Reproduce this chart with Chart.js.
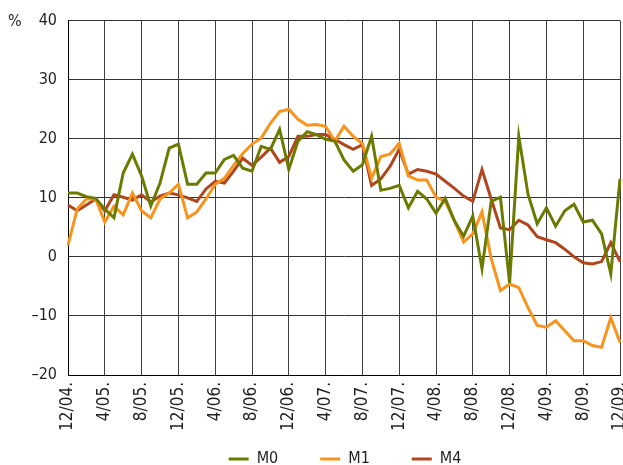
<!DOCTYPE html>
<html>
<head>
<meta charset="utf-8">
<script src="https://cdn.jsdelivr.net/npm/chart.js@4.4.1/dist/chart.umd.min.js"></script>
<style>
html,body{margin:0;padding:0;background:#ffffff;}
#wrap{width:623px;height:465px;position:relative;}
canvas{display:block;}
</style>
</head>
<body>
<div id="wrap"><canvas id="c" width="623" height="465"></canvas></div>
<script>
// Tick labels shown on the x axis (every 4th month)
const tickLabels = ['12/04.','4/05.','8/05.','12/05.','4/06.','8/06.','12/06.','4/07.','8/07.','12/07.','4/08.','8/08.','12/08.','4/09.','8/09.','12/09.'];

// Monthly categories Dec 2004 .. Dec 2009
const months = ['12/04.',
  '1/05.','2/05.','3/05.','4/05.','5/05.','6/05.','7/05.','8/05.','9/05.','10/05.','11/05.','12/05.',
  '1/06.','2/06.','3/06.','4/06.','5/06.','6/06.','7/06.','8/06.','9/06.','10/06.','11/06.','12/06.',
  '1/07.','2/07.','3/07.','4/07.','5/07.','6/07.','7/07.','8/07.','9/07.','10/07.','11/07.','12/07.',
  '1/08.','2/08.','3/08.','4/08.','5/08.','6/08.','7/08.','8/08.','9/08.','10/08.','11/08.','12/08.',
  '1/09.','2/09.','3/09.','4/09.','5/09.','6/09.','7/09.','8/09.','9/09.','10/09.','11/09.','12/09.'];

const seriesNames = ['M0', 'M1', 'M4'];

const m0 = [10.8, 10.8, 10.2, 9.9, 8.1, 6.6, 14.2, 17.4, 13.7, 8.6, 12.5, 18.4, 19.1,
  12.3, 12.3, 14.2, 14.2, 16.5, 17.2, 15.0, 14.5, 18.7, 18.2, 21.6, 14.8,
  19.6, 21.2, 20.7, 19.9, 19.6, 16.4, 14.5, 15.6, 20.4, 11.3, 11.6, 12.1,
  8.3, 11.1, 9.8, 7.4, 9.9, 6.1, 3.5, 6.9, -2.0, 9.4, 10.1, -4.4,
  20.4, 10.6, 5.6, 8.3, 5.2, 7.8, 8.9, 5.9, 6.2, 3.9, -2.9, 13.2];

const m1 = [2.0, 8.1, 9.8, 9.8, 5.9, 8.6, 7.1, 10.8, 7.8, 6.6, 9.8, 10.8, 12.3,
  6.6, 7.6, 9.8, 12.3, 13.3, 15.5, 17.5, 19.1, 20.1, 22.6, 24.6, 25.0,
  23.3, 22.3, 22.4, 22.1, 19.6, 22.1, 20.4, 19.2, 13.3, 17.0, 17.4, 19.2,
  13.7, 13.0, 13.0, 10.1, 9.4, 6.1, 2.5, 3.9, 7.6, -0.3, -5.7, -4.6,
  -5.2, -8.6, -11.6, -11.9, -10.8, -12.5, -14.2, -14.2, -15.0, -15.3, -10.3, -14.5];

const m4 = [8.8, 7.8, 8.8, 9.8, 7.8, 10.5, 10.1, 9.6, 10.5, 9.3, 10.3, 10.8, 10.5,
  10.0, 9.4, 11.5, 12.8, 12.5, 14.5, 16.7, 15.5, 16.9, 18.4, 16.0, 17.0,
  20.4, 20.4, 20.7, 20.7, 19.9, 19.0, 18.2, 19.0, 12.1, 13.2, 15.3, 18.2,
  14.0, 14.8, 14.5, 14.0, 12.8, 11.6, 10.3, 9.4, 14.8, 9.8, 4.9, 4.6,
  6.2, 5.4, 3.4, 2.9, 2.4, 1.3, 0.0, -1.0, -1.2, -0.8, 2.4, -0.8];

const colors = ['#6b7b00', '#f7941d', '#b0461e'];
const FONT = "'Liberation Sans Narrow', 'DejaVu Sans Condensed', 'Liberation Sans', Arial, sans-serif";
const TEXT = '#231f20';
const LEGEND_PAD = 42;   // horizontal gap between legend items
const LEGEND_H = 14;     // height reserved for the legend box in the layout
const LEGEND_TEXT_Y = 459;

const legendLayout = {
  id: 'legendLayout',
  beforeLayout(chart) {
    const l = chart.legend;
    if (l && !l._patched) {
      const f = l.fit.bind(l);
      l.fit = function () { f(); this.height = LEGEND_H; };
      l._patched = true;
    }
  },
  afterLayout(chart) {
    const l = chart.legend;
    if (!l) return;
    // centre the row under the plot; text line sits at LEGEND_TEXT_Y
    l.left += 35; l.right += 35;
    l.top = LEGEND_TEXT_Y - LEGEND_PAD - 8;
    l.bottom = chart.height;
  }
};

const percentLabel = {
  id: 'percentLabel',
  afterDraw(chart) {
    const ctx = chart.ctx;
    ctx.save();
    ctx.font = '16px ' + FONT;
    ctx.fillStyle = TEXT;
    ctx.textAlign = 'left';
    ctx.textBaseline = 'middle';
    ctx.fillText('%', 8, chart.chartArea.top + 1);
    ctx.restore();
  }
};

new Chart(document.getElementById('c'), {
  type: 'line',
  data: {
    labels: months,
    datasets: [m0, m1, m4].map((d, k) => ({
      label: seriesNames[k],
      data: d,
      borderColor: colors[k],
      backgroundColor: colors[k],
      borderWidth: 3,
      pointRadius: 0,
      tension: 0,
      fill: false
    }))
  },
  options: {
    responsive: false,
    animation: false,
    devicePixelRatio: 1,
    layout: { padding: { top: 19, right: 3, left: 0, bottom: 0 } },
    plugins: {
      tooltip: { enabled: false },
      legend: {
        position: 'bottom',
        labels: {
          boxWidth: 20,
          boxHeight: 3,
          padding: LEGEND_PAD,
          color: TEXT,
          font: { family: FONT, size: 16 },
          generateLabels(chart) {
            const items = Chart.defaults.plugins.legend.labels.generateLabels(chart);
            return items.map(it => Object.assign(it, { lineWidth: 0, fillStyle: it.strokeStyle }));
          }
        }
      }
    },
    scales: {
      x: {
        type: 'category',
        offset: false,
        grid: {
          drawTicks: false,
          color: (ctx) => (ctx.index % 4 === 0 ? '#404040' : 'rgba(0,0,0,0)'),
          lineWidth: 1
        },
        border: { color: '#000000', width: 1 },
        ticks: {
          autoSkip: false,
          maxRotation: 90,
          minRotation: 90,
          padding: 7,
          color: TEXT,
          font: { family: FONT, size: 17 },
          callback: (v, i) => (i % 4 === 0 ? tickLabels[i / 4] : '')
        },
        afterFit: (s) => { s.height = 465 - 375 - LEGEND_H; s.paddingLeft = 0; s.paddingRight = 0; }
      },
      y: {
        min: -20,
        max: 40,
        grid: { drawTicks: false, color: '#333333', lineWidth: 1 },
        border: { color: '#000000', width: 1 },
        ticks: {
          stepSize: 10,
          padding: 11,
          color: TEXT,
          font: { family: FONT, size: 16 },
          callback: (v) => (v < 0 ? '\u2013' + Math.abs(v) : String(v))
        },
        afterFit: (s) => { s.width = 68; }
      }
    }
  },
  plugins: [legendLayout, percentLabel]
});
</script>
</body>
</html>
